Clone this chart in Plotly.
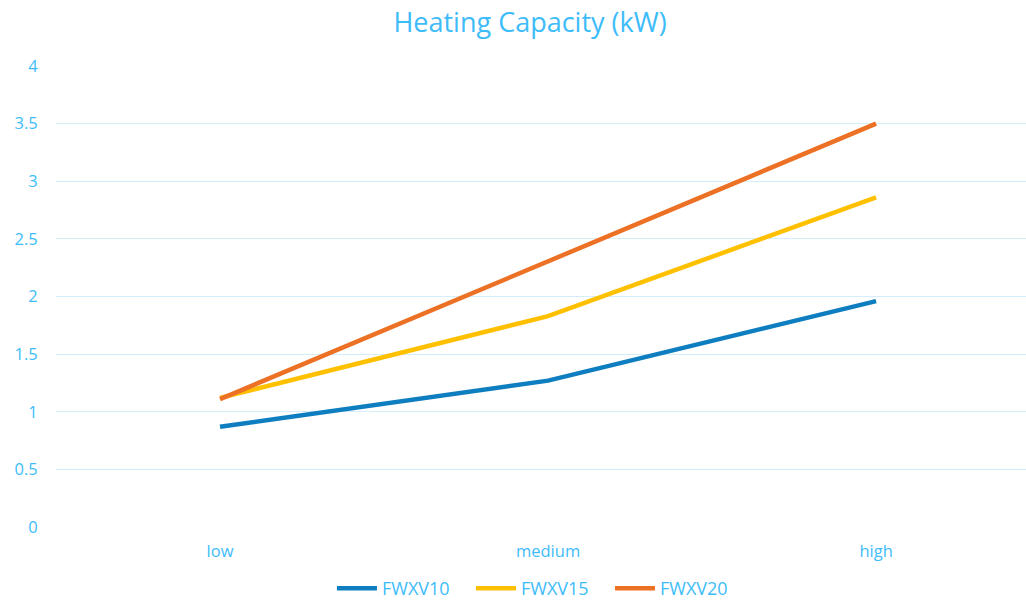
import plotly.graph_objects as go

categories = ["low", "medium", "high"]
fwxv10 = [0.87, 1.27, 1.96]
fwxv15 = [1.12, 1.83, 2.86]
fwxv20 = [1.11, 2.31, 3.50]
series_names = ["FWXV10", "FWXV15", "FWXV20"]
colors = ["#0E7EC0", "#FFC000", "#ED7125"]
tick_vals = [0, 0.5, 1, 1.5, 2, 2.5, 3, 3.5, 4]
tick_text = ["0", "0.5", "1", "1.5", "2", "2.5", "3", "3.5", "4"]

txt = "#3EBCFA"
font_family = "Open Sans, Noto Sans, sans-serif"

fig = go.Figure()
for name, vals, c in zip(series_names, [fwxv10, fwxv15, fwxv20], colors):
    fig.add_trace(go.Scatter(x=[0, 1, 2], y=vals, mode="lines", name=name,
                             line=dict(color=c, width=4.5), hoverinfo="skip"))

fig.update_layout(
    width=1026, height=608,
    paper_bgcolor="white", plot_bgcolor="white",
    margin=dict(l=56, r=0, t=66, b=81),
    title=dict(text="Heating Capacity (kW)", x=0.5166, xanchor="center", y=0.963, yanchor="middle",
               font=dict(family=font_family, size=27, color=txt)),
    font=dict(family=font_family, size=16, color=txt),
    showlegend=True,
    legend=dict(orientation="h", x=0.2845, xanchor="left", y=-0.1735, yanchor="bottom",
                font=dict(size=18, color=txt), itemwidth=40, entrywidth=84,
                entrywidthmode="pixels", tracegroupgap=0),
    xaxis=dict(tickmode="array", tickvals=[0, 1, 2], ticktext=categories,
               range=[-0.5, 2.457], showgrid=False, zeroline=False, showline=False,
               ticks="outside", ticklen=9, tickcolor="rgba(0,0,0,0)",
               tickfont=dict(size=16.5, color=txt)),
    yaxis=dict(tickmode="array", tickvals=tick_vals, ticktext=tick_text, range=[0, 4],
               showgrid=True, gridcolor="#D5EEFB", gridwidth=1.3, zeroline=False,
               showline=False, ticks="outside", ticklen=14, tickcolor="rgba(0,0,0,0)",
               tickfont=dict(size=16.5, color=txt)),
)

fig.write_html("out.html", config={"displayModeBar": False},
               post_script="document.body.style.margin='0';")
